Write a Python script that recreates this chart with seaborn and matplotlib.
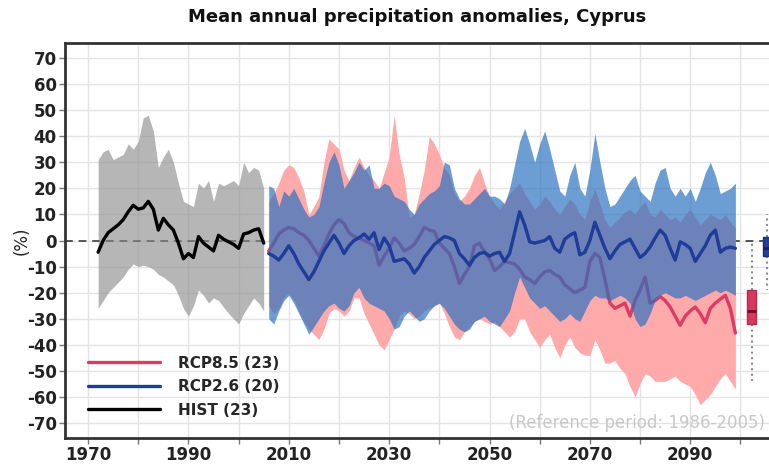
import numpy as np
import pandas as pd
import matplotlib
matplotlib.use("Agg")
import matplotlib.pyplot as plt
import seaborn as sns

# data (annual anomalies, %)
hist_years = np.arange(1972, 2006)
hist_mean = [-4.5, 0, 3, 4.5, 6, 8, 11, 13.5, 12, 12.5,
             15, 12, 4, 8.5, 6, 4, -1, -7, -5, -6.5,
             1.5, -1, -2.5, -4, 2, 0.5, -0.5, -1.5, -3, 2.5,
             3, 4, 4.5, -1]
hist_hi = [31, 34, 35, 31, 32, 33, 37, 35, 38, 47,
           48, 42, 28, 32, 35, 30, 22, 15, 14, 13,
           22, 20, 23, 15, 22, 21, 22, 23, 21, 30,
           26, 28, 27, 20]
hist_lo = [-26, -23, -20, -18, -16, -14, -11, -9, -10, -9.5,
           -10, -11, -13, -14, -15.5, -17, -21, -26, -29, -25,
           -19, -21, -24, -22, -23, -25.5, -28, -30, -32, -28,
           -25, -22, -24, -27]

rcp_years = np.arange(2006, 2100)
rcp26_mean = [-5, -6, -7.5, -5, -2, -5, -9, -12, -15, -12,
              -8, -4, -1, 2, -1, -5, -2, 0, 1, 2.5,
              0.5, 3, -3.5, 1, -2, -8, -7.5, -7, -9, -12.5,
              -10, -6.5, -4, -1.5, 0, 1.5, 1, 0, -5, -7,
              -9.5, -6.5, -5, -4.5, -6, -5, -4.5, -8, -5, 3,
              11, 6, -0.5, -1, -0.5, 0, 1.5, -3, -4.5, 0.5,
              2, 3, -5.5, -4.5, 0, 7, 2, -3, -7, -4,
              -1.5, -0.5, 0.5, -3, -6.5, -5, -2.5, 1, 4, 2,
              -3, -7.5, -0.5, -1.5, -3, -8, -5, -2, 2, 4,
              -4.5, -3, -2.5, -3]
rcp26_hi = [21, 20, 13, 19, 17, 20, 16, 12, 9, 10,
            13, 22, 30, 34, 29, 20, 23, 26, 30, 27,
            29, 20, 20, 22, 21, 17, 16, 15, 12, 10,
            14, 16, 18, 19, 21, 30, 29, 20, 16, 14,
            14, 16, 18, 20, 17, 17, 16, 14, 20, 29,
            38, 43, 37, 30, 37, 42, 35, 27, 19, 17,
            25, 30, 20, 17, 27, 41, 30, 20, 13, 14,
            17, 20, 23, 25, 19, 17, 15, 22, 27, 28,
            20, 17, 20, 17, 20, 15, 20, 26, 30, 25,
            18, 19, 20, 22]
rcp26_lo = [-30, -32, -27, -23, -21, -24, -28, -32, -36, -33,
            -30, -27, -25, -24, -26, -27, -25, -20, -18, -22,
            -24, -25, -26, -27, -30, -34, -33, -29, -27, -29,
            -31, -30, -27, -25, -24, -26, -29, -32, -34, -35,
            -34, -31, -30, -29, -31, -32, -33, -30, -27, -20,
            -14, -18, -22, -24, -26, -25, -27, -29, -31, -30,
            -28, -30, -31, -27, -23, -21, -22, -22, -23, -22,
            -21, -22, -24, -30, -33, -32, -28, -23, -21, -20,
            -21, -22, -22, -21, -22, -23, -22, -21, -20, -19,
            -20, -19, -20, -21]

rcp85_mean = [-4, -1, 2.5, 4, 5, 4.5, 3, 2, 0, -3,
              -6, -2, 2.5, 6, 8, 6.5, 3, 1.5, 1, 0,
              -1, -2, -9.5, -6, -3, 1, -1, -4, -3, -1.5,
              1.5, 5, 4, 3.5, -1, -3, -5, -10, -16.5, -13,
              -10, -2, -1, -4.5, -7, -11.5, -10, -8, -8.5, -9,
              -11, -14, -15, -16.5, -14, -12, -11.5, -13, -14, -17,
              -18.5, -20, -19, -18, -8, -5, -6.5, -15, -24, -26,
              -25, -24, -29, -23, -19, -14, -24, -23, -21.5, -23,
              -25.5, -29, -32.5, -29, -27, -25.5, -28, -31.5, -26, -24,
              -22.5, -21, -26, -35.5]
rcp85_hi = [15, 18, 22, 27, 29, 28, 24, 19, 10, 13,
            17, 30, 39, 37, 35, 27, 23, 28, 32, 28,
            25, 23, 20, 26, 32, 48, 33, 24, 9, 10,
            18, 27, 40, 37, 33, 28, 25, 18, 15, 17,
            20, 25, 28, 22, 17, 14, 12, 15, 18, 20,
            22, 18, 15, 12, 14, 17, 15, 12, 10, 13,
            16, 14, 10, 8, 15, 20, 14, 8, 5, 7,
            9, 11, 12, 10, 13, 15, 10, 9, 12, 10,
            8, 9, 7, 10, 12, 9, 6, 8, 10, 9,
            8, 10, 7, 5]
rcp85_lo = [-25, -28, -26, -22, -20, -23, -27, -31, -34, -36,
            -38, -34, -28, -26, -27, -29, -27, -22, -22, -28,
            -32, -36, -40, -42, -38, -34, -29, -27, -28, -30,
            -29, -27, -26, -25, -24, -28, -33, -37, -38, -35,
            -33, -31, -30, -31, -32, -31, -33, -35, -37, -35,
            -30, -30, -35, -38, -41, -38, -36, -41, -45, -40,
            -37, -41, -43, -44, -44, -38, -42, -47, -47, -46,
            -49, -51, -56, -60, -55, -51, -52, -54, -54, -54,
            -53, -52, -54, -55, -56, -59, -63, -61, -59, -56,
            -53, -51, -54, -57]

# end-of-century spread boxes (RCP8.5, RCP2.6)
box_pos = [2102.3, 2105.4]
box_med = [-27, -3]
box_q1 = [-32, -6]
box_q3 = [-19, 1.5]
box_wlo = [-54, -19]
box_whi = [-1, 10]

labels = ["RCP8.5 (23)", "RCP2.6 (20)", "HIST (23)"]
C85_FILL = "#ffaaaa"
C85_LINE = "#dc3c64"
C26_FILL = "#2670bf"
C26_LINE = "#1f3c99"

sns.set_theme(style="whitegrid")
plt.rcParams["font.family"] = ["DejaVu Sans"]
plt.rcParams["font.weight"] = "bold"
plt.rcParams["axes.unicode_minus"] = False

hist_df = pd.DataFrame({"year": hist_years, "mean": hist_mean})
rcp_df = pd.DataFrame({"year": rcp_years, "r26": rcp26_mean, "r85": rcp85_mean})

fig = plt.figure(figsize=(7.69, 4.72), dpi=100)
ax = fig.add_axes([65 / 769, 1 - 438 / 472, 1 - 65 / 769, 395 / 472])

ax.axhline(0, color="#555555", lw=1.4, ls=(0, (4, 3)), zorder=1.5)

ax.fill_between(hist_years, hist_lo, hist_hi, color="#8a8a8a", alpha=0.62, lw=0, zorder=2)
ax.fill_between(rcp_years, rcp85_lo, rcp85_hi, color=C85_FILL, lw=0, zorder=2.2)
sns.lineplot(data=rcp_df, x="year", y="r85", color=C85_LINE, lw=2.4, ax=ax,
             zorder=2.4, label=labels[0])
ax.fill_between(rcp_years, rcp26_lo, rcp26_hi, color=C26_FILL, alpha=0.68, lw=0, zorder=2.6)
sns.lineplot(data=rcp_df, x="year", y="r26", color=C26_LINE, lw=2.4, ax=ax,
             zorder=3, label=labels[1])
sns.lineplot(data=hist_df, x="year", y="mean", color="black", lw=2.4, ax=ax,
             zorder=3, label=labels[2])

stats = []
for i in range(2):
    stats.append({"med": box_med[i], "q1": box_q1[i], "q3": box_q3[i],
                  "whislo": box_wlo[i], "whishi": box_whi[i], "fliers": []})
bp = ax.bxp(stats, positions=box_pos, widths=1.8, patch_artist=True,
            showfliers=False, manage_ticks=False,
            whiskerprops=dict(ls=":", color="#8a8a8a", lw=1.5),
            capprops=dict(lw=0), medianprops=dict(lw=2))
for patch, fc, ec in zip(bp["boxes"], ["#d8385e", "#24418f"], ["#b02a4c", "#1a3070"]):
    patch.set_facecolor(fc)
    patch.set_edgecolor(ec)
    patch.set_zorder(4)
for med, mc in zip(bp["medians"], ["#6a0f2a", "#14245a"]):
    med.set_color(mc)
    med.set_zorder(5)

ax.set_xlim(1965.4, 2105.7)
ax.set_ylim(-75.7, 75.7)
ax.set_xticks(np.arange(1970, 2091, 20))
ax.set_xticks(np.arange(1980, 2101, 20), minor=True)
ax.set_yticks(np.arange(-70, 71, 10))
ax.grid(which="both", color="#e4e4e4", lw=1)
ax.set_axisbelow(True)
ax.tick_params(axis="both", which="both", length=4, width=1, color="#777777",
               labelsize=12, labelcolor="#222222", bottom=True, left=True, pad=2)
ax.set_xlabel("")
ax.set_ylabel("(%)", fontsize=12, labelpad=-3, color="#222222")

for side in ["left", "bottom", "top"]:
    ax.spines[side].set_color("#333333")
    ax.spines[side].set_linewidth(2)
ax.spines["right"].set_visible(False)

handles, labs = ax.get_legend_handles_labels()
ax.legend(handles, labs, loc="center left", bbox_to_anchor=(0.024, 0.13),
          frameon=False, fontsize=11, handlelength=4.7, handletextpad=1.2,
          labelspacing=0.55, borderaxespad=0)

ax.text(0.994, 0.038, "(Reference period: 1986-2005)", transform=ax.transAxes,
        ha="right", va="center", color="#c8c8c8", fontsize=12, fontweight="normal")

fig.text(417 / 769, 1 - 17 / 472, "Mean annual precipitation anomalies, Cyprus",
         ha="center", va="center", fontsize=13, fontweight="bold", color="#111111")

fig.savefig("out.png", dpi=100)
